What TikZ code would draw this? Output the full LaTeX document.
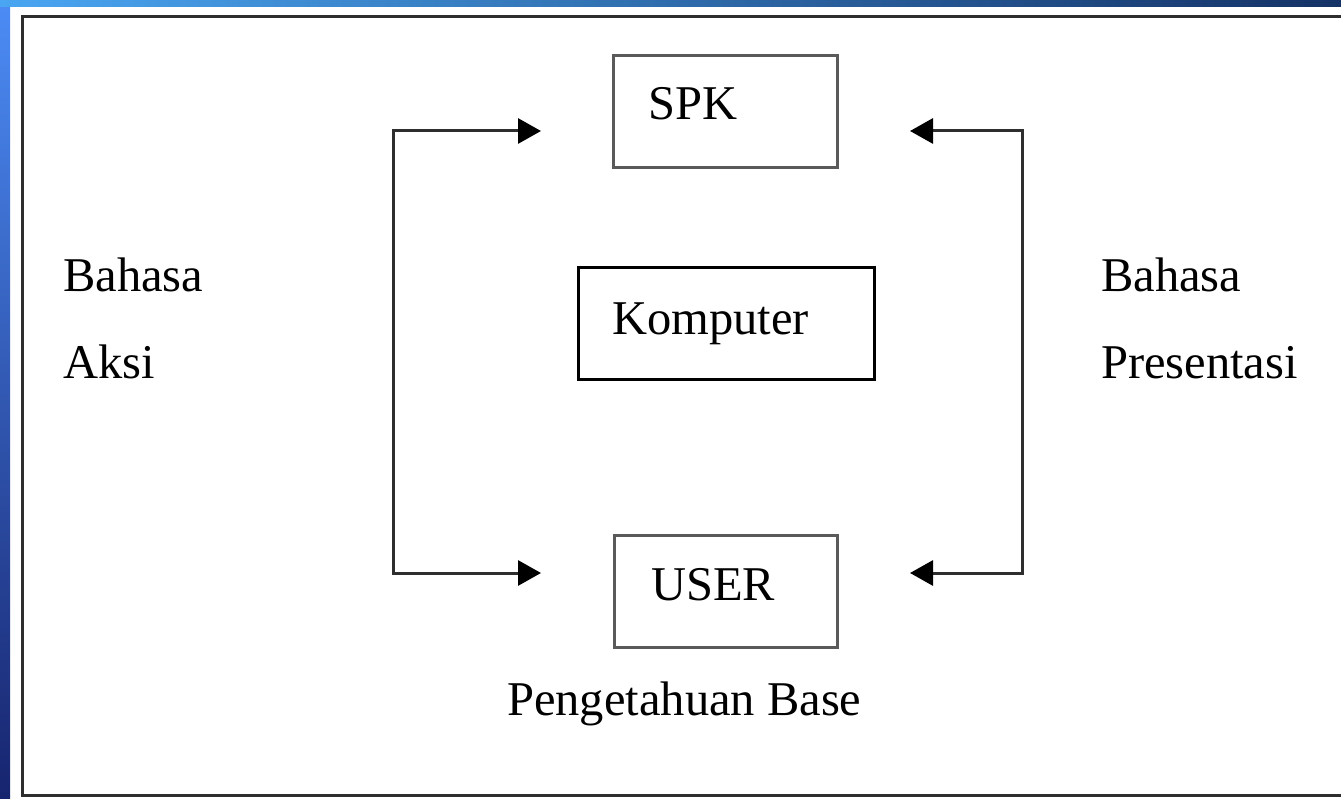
\documentclass[tikz,border=0pt]{standalone}
\usepackage{fontspec}
\setmainfont{Liberation Serif}
\usetikzlibrary{arrows.meta}

\definecolor{skylight}{HTML}{4C8CF5}
\definecolor{skytop}{HTML}{4AA6F2}
\definecolor{navy}{HTML}{17246E}
\definecolor{navytop}{HTML}{143266}
\definecolor{boxline}{HTML}{5A5A5A}
\definecolor{wireline}{HTML}{2E2E2E}

\tikzset{
  blockbox/.style={draw=boxline, line width=3pt, fill=white, inner sep=0pt},
  labeltext/.style={anchor=base west, inner sep=0pt, font=\fontsize{48.5}{58}\selectfont},
  wire/.style={draw=wireline, line width=3pt, line join=miter,
    -{Triangle[length=23pt,width=25pt,color=black]}},
}

\begin{document}
\begin{tikzpicture}[x=1pt, y=-1pt]
  \useasboundingbox (0,0) rectangle (1341,799);

  % slide backdrop: blue bands on the left and the top
  \fill[white] (0,0) rectangle (1341,799);
  \shade[top color=skylight, bottom color=navy] (0,0) rectangle (10,799);
  \shade[left color=skytop, right color=navytop] (0,0) rectangle (1341,7);

  % frame round the figure
  \draw[wireline, line width=3pt] (1341,17) -- (22,17) -- (22,795) -- (1341,795);

  % the three blocks
  \node[blockbox, minimum width=224pt, minimum height=112pt] (spk) at (725.5,111.5) {};
  \node[labeltext] (spklabel) at (648,120) {SPK};

  \node[blockbox, draw=black, minimum width=296pt, minimum height=112pt] (komp) at (726.5,324) {};
  \node[labeltext] (komplabel) at (612,335) {Komputer};

  \node[blockbox, minimum width=223pt, minimum height=112pt] (user) at (725.5,591.5) {};
  \node[labeltext] (userlabel) at (651,600) {USER};

  \node[labeltext] (base) at (507,715) {Pengetahuan Base};

  % side captions
  \node[labeltext] (aksi1) at (63,292) {Bahasa};
  \node[labeltext] (aksi2) at (63,378) {Aksi};
  \node[labeltext] (pres1) at (1101,292) {Bahasa};
  \node[labeltext] (pres2) at (1101,378) {Presentasi};

  % bracket arrows
  \coordinate (lt) at (393,131);
  \coordinate (lb) at (393,573);
  \coordinate (ltip) at (541,131);
  \coordinate (lbtip) at (541,573);
  \coordinate (rt) at (1022,131);
  \coordinate (rb) at (1022,573);
  \coordinate (rtip) at (910,131);
  \coordinate (rbtip) at (910,573);

  \draw[wire] (lb) -- (lt) -- (ltip);
  \draw[wire] (lt) -- (lb) -- (lbtip);
  \draw[wire] (rb) -- (rt) -- (rtip);
  \draw[wire] (rt) -- (rb) -- (rbtip);
\end{tikzpicture}
\end{document}
